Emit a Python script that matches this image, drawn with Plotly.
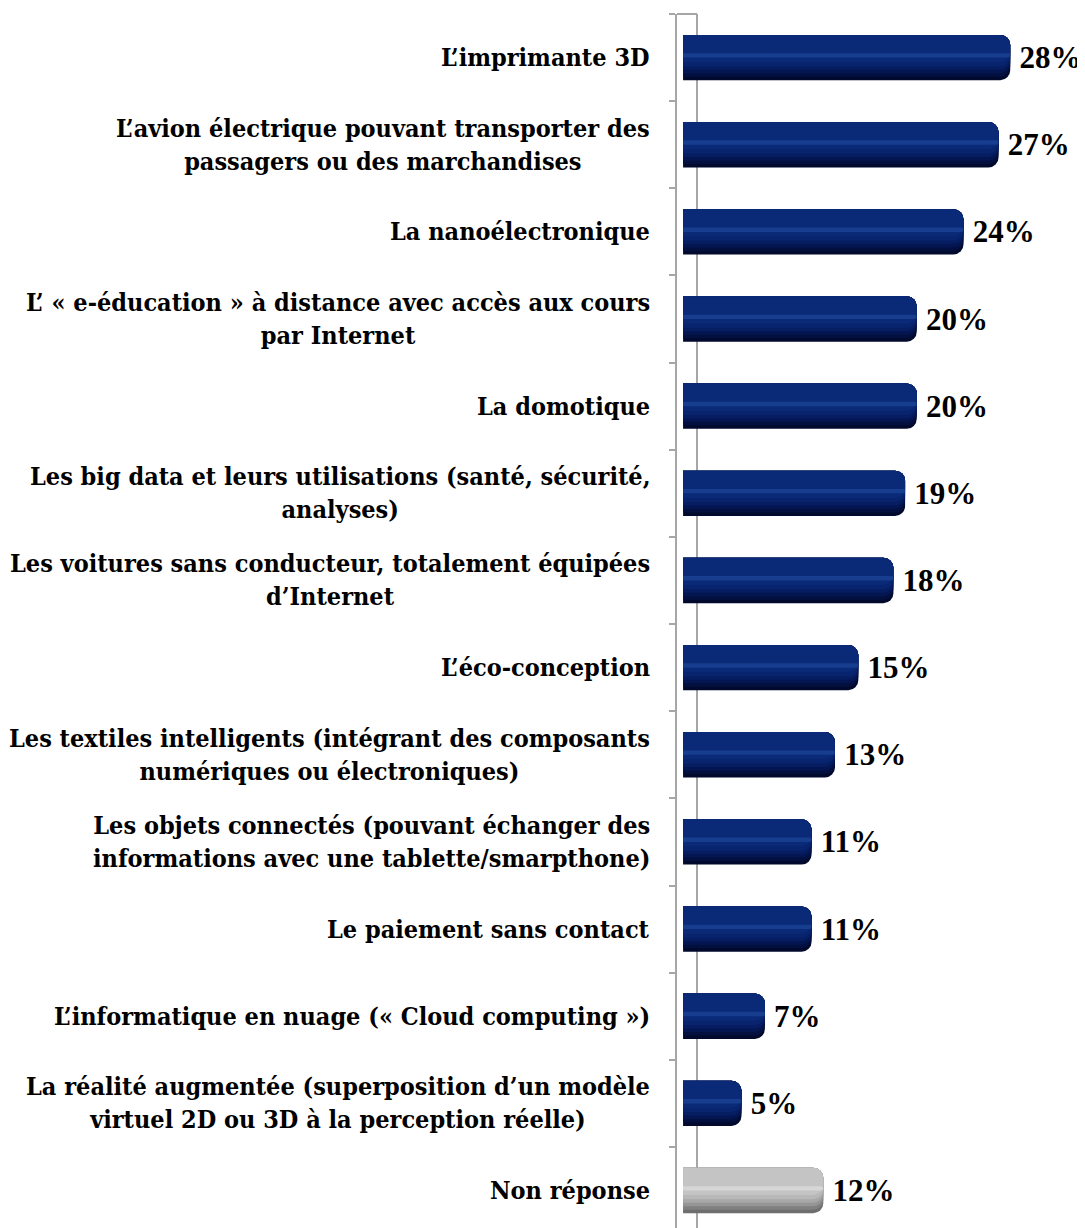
import plotly.graph_objects as go

categories = [
    "L’imprimante 3D",
    "L’avion électrique pouvant transporter des<br>passagers ou des marchandises",
    "La nanoélectronique",
    "L’ « e-éducation » à distance avec accès aux cours<br>par Internet",
    "La domotique",
    "Les big data et leurs utilisations (santé, sécurité,<br>analyses)",
    "Les voitures sans conducteur, totalement équipées<br>d’Internet",
    "L’éco-conception",
    "Les textiles intelligents (intégrant des composants<br>numériques ou électroniques)",
    "Les objets connectés (pouvant échanger des<br>informations avec une tablette/smarpthone)",
    "Le paiement sans contact",
    "L’informatique en nuage (« Cloud computing »)",
    "La réalité augmentée (superposition d’un modèle<br>virtuel 2D ou 3D à la perception réelle)",
    "Non réponse",
]
values = [28, 27, 24, 20, 20, 19, 18, 15, 13, 11, 11, 7, 5, 12]
value_labels = [f"\u2009{v}%" for v in values]

n = len(categories)
ypos = list(range(n))
is_nr = [c == "Non réponse" for c in categories]

# shading layers: (width, offset, blue colour, grey colour)
layers = [
    (0.48, -0.26, "#020f3f", "#808080"),
    (0.44, -0.26, "#041652", "#959595"),
    (0.40, -0.26, "#061d62", "#a8a8a8"),
    (0.36, -0.26, "#08246e", "#b8b8b8"),
    (0.31, -0.26, "#0a2a78", "#c4c4c4"),
    (0.05, -0.05, "#173e8e", "#d6d6d6"),
]

LABEL_FONT = "DejaVu Serif Condensed, DejaVu Serif, serif"
VALUE_FONT = "Liberation Serif, serif"
fig = go.Figure()
fig.add_trace(go.Bar(
    y=ypos, x=values, orientation="h", width=0.52,
    marker=dict(color=["#6e6e6e" if g else "#010a2c" for g in is_nr], line=dict(width=0)),
    text=value_labels, textposition="outside", cliponaxis=False,
    textfont=dict(family=VALUE_FONT, size=31, color="black", weight="bold"),
    hoverinfo="skip", showlegend=False,
))
for w, off, cb, cg in layers:
    fig.add_trace(go.Bar(
        y=ypos, x=values, orientation="h", width=w, offset=off,
        marker=dict(color=[cg if g else cb for g in is_nr], line=dict(width=0)),
        hoverinfo="skip", showlegend=False,
    ))

for i, c in enumerate(categories):
    fig.add_annotation(
        x=0, xref="paper", y=i, yref="y", text=c, showarrow=False,
        xanchor="right", yanchor="middle", align="center", xshift=-25,
        font=dict(family=LABEL_FONT, size=25, color="black", weight="bold"),
    )

fig.add_shape(type="line", xref="x", yref="paper", x0=-0.52, x1=1.2, y0=1, y1=1,
              line=dict(color="#a6a6a6", width=2))

fig.update_layout(
    width=1077, height=1220,
    margin=dict(l=669, r=0, t=6, b=0),
    paper_bgcolor="white", plot_bgcolor="white",
    barmode="overlay", barcornerradius=10,
    xaxis=dict(range=[-0.52, 34.4], tickvals=[1.2], showticklabels=False,
               showgrid=True, gridcolor="#a6a6a6", gridwidth=2,
               zeroline=False, ticks=""),
    yaxis=dict(range=[13.43, -0.5], tickvals=[i + 0.5 for i in range(-1, n)],
               showticklabels=False, showgrid=False, zeroline=False,
               showline=True, linecolor="#a6a6a6", linewidth=2,
               ticks="outside", ticklen=6, tickcolor="#a6a6a6", tickwidth=2),
)

fig.write_html("out.html")
